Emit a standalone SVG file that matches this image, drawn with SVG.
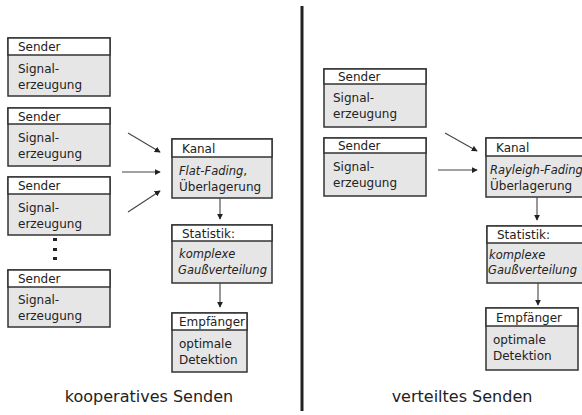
<svg xmlns="http://www.w3.org/2000/svg" width="582" height="415" viewBox="0 0 582 415">
<style>
.hd{fill:#fff;stroke:#333;stroke-width:1.5}
.bd{fill:#e6e6e6;stroke:#333;stroke-width:1.5}
text{font-family:"DejaVu Sans",Verdana,sans-serif;font-size:12px;fill:#222}
.it{font-style:italic;font-size:11.5px}
.cap{font-size:16px;text-anchor:middle}
.ar{stroke:#444;stroke-width:1.1;fill:none;marker-end:url(#ah)}
</style>
<defs>
<marker id="ah" viewBox="0 0 8 8" refX="7" refY="4" markerWidth="6" markerHeight="6" orient="auto" markerUnits="userSpaceOnUse">
<path d="M0,0 L8,4 L0,8 z" fill="#222"/>
</marker>
</defs>
<rect width="582" height="415" fill="#fff"/>
<line x1="302" y1="6" x2="302" y2="411" stroke="#222" stroke-width="3"/>

<g id="sender1">
<rect class="bd" x="8" y="38" width="102" height="58"/>
<rect class="hd" x="8" y="38" width="102" height="17"/>
<text x="18" y="51">Sender</text>
<text x="18" y="73">Signal-</text>
<text x="18" y="89">erzeugung</text>
</g>
<g id="sender2">
<rect class="bd" x="8" y="108" width="102" height="58"/>
<rect class="hd" x="8" y="108" width="102" height="16"/>
<text x="18" y="121">Sender</text>
<text x="18" y="142">Signal-</text>
<text x="18" y="158">erzeugung</text>
</g>
<g id="sender3">
<rect class="bd" x="8" y="177" width="102" height="58"/>
<rect class="hd" x="8" y="177" width="102" height="17"/>
<text x="18" y="190">Sender</text>
<text x="18" y="212">Signal-</text>
<text x="18" y="228">erzeugung</text>
</g>
<g id="dots" fill="#222">
<rect x="53" y="238" width="4" height="3"/>
<rect x="53" y="248" width="4" height="3"/>
<rect x="53" y="257" width="4" height="3"/>
</g>
<g id="sender4">
<rect class="bd" x="8" y="270" width="102" height="57"/>
<rect class="hd" x="8" y="270" width="102" height="17"/>
<text x="18" y="283">Sender</text>
<text x="18" y="304">Signal-</text>
<text x="18" y="320">erzeugung</text>
</g>
<g id="kanal1">
<rect class="bd" x="172" y="139" width="100" height="59"/>
<rect class="hd" x="172" y="139" width="100" height="18"/>
<text x="182" y="153">Kanal</text>
<text x="179" y="175"><tspan class="it">Flat-Fading</tspan>,</text>
<text x="179" y="191">Überlagerung</text>
</g>
<g id="statistik1">
<rect class="bd" x="172" y="225" width="100" height="58"/>
<rect class="hd" x="172" y="225" width="100" height="16"/>
<text x="182" y="238">Statistik:</text>
<text class="it" x="179" y="258">komplexe</text>
<text class="it" x="178" y="274">Gaußverteilung</text>
</g>
<g id="empfaenger1">
<rect class="bd" x="172" y="313" width="75" height="59"/>
<rect class="hd" x="172" y="313" width="75" height="17"/>
<text x="179" y="326">Empfänger</text>
<text x="179" y="348">optimale</text>
<text x="179" y="364">Detektion</text>
</g>

<g id="sender5">
<rect class="bd" x="324" y="69" width="102" height="58"/>
<rect class="hd" x="324" y="69" width="102" height="15"/>
<text x="338" y="81">Sender</text>
<text x="333" y="102">Signal-</text>
<text x="333" y="118">erzeugung</text>
</g>
<g id="sender6">
<rect class="bd" x="324" y="138" width="102" height="58"/>
<rect class="hd" x="324" y="138" width="102" height="15"/>
<text x="338" y="150">Sender</text>
<text x="333" y="171">Signal-</text>
<text x="333" y="187">erzeugung</text>
</g>
<g id="kanal2">
<rect class="bd" x="486" y="138" width="100" height="59"/>
<rect class="hd" x="486" y="138" width="100" height="18"/>
<text x="496" y="152">Kanal</text>
<text class="it" x="490" y="174">Rayleigh-Fading</text>
<text x="490" y="190">Überlagerung</text>
</g>
<g id="statistik2">
<rect class="bd" x="487" y="226" width="100" height="57"/>
<rect class="hd" x="487" y="226" width="100" height="17"/>
<text x="497" y="239">Statistik:</text>
<text class="it" x="489" y="259">komplexe</text>
<text class="it" x="488" y="274">Gaußverteilung</text>
</g>
<g id="empfaenger2">
<rect class="bd" x="486" y="308" width="92" height="62"/>
<rect class="hd" x="486" y="308" width="92" height="18"/>
<text x="496" y="322">Empfänger</text>
<text x="493" y="344">optimale</text>
<text x="493" y="360">Detektion</text>
</g>

<g id="connectors">
<line class="ar" x1="128" y1="133" x2="160" y2="152"/>
<line class="ar" x1="122" y1="172" x2="160" y2="172"/>
<line class="ar" x1="128" y1="212" x2="160" y2="191"/>
<line class="ar" x1="220" y1="198" x2="220" y2="219"/>
<line class="ar" x1="220" y1="283" x2="220" y2="307"/>
<line class="ar" x1="445" y1="133" x2="477" y2="151"/>
<line class="ar" x1="438" y1="170" x2="477" y2="170"/>
<line class="ar" x1="537" y1="197" x2="537" y2="220"/>
<line class="ar" x1="538" y1="283" x2="538" y2="305"/>
</g>

<text class="cap" x="149" y="402">kooperatives Senden</text>
<text class="cap" x="462" y="402">verteiltes Senden</text>
</svg>
